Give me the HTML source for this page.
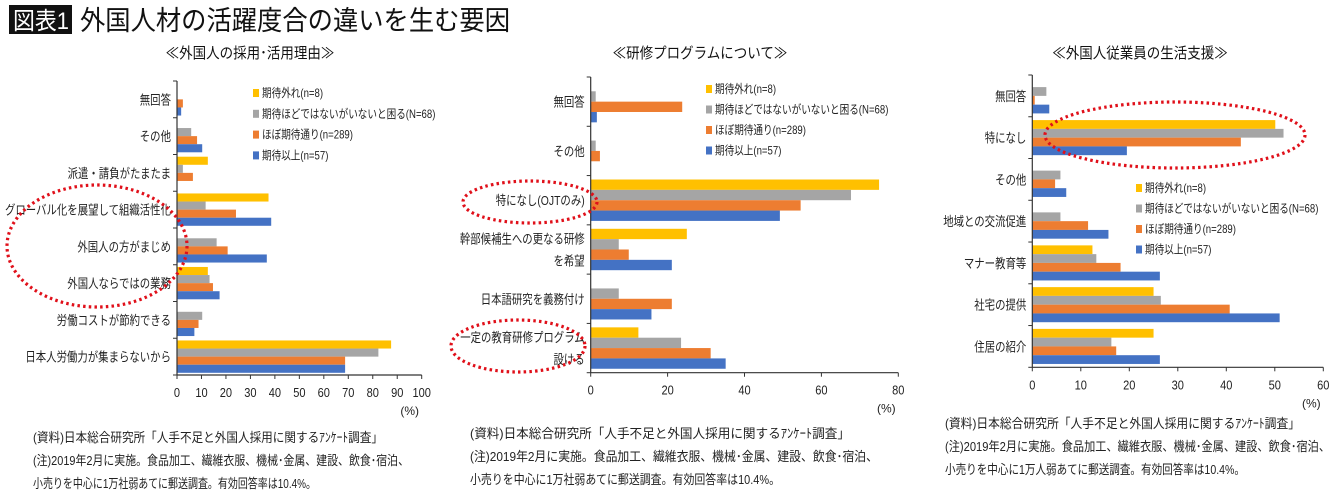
<!DOCTYPE html>
<html><head><meta charset="utf-8"><style>
html,body{margin:0;padding:0;background:#fff;}
svg{display:block;font-family:"Liberation Sans","Noto Sans CJK JP",sans-serif;}
</style></head><body>
<svg id="svg" width="1340" height="492" viewBox="0 0 1340 492">
<rect x="9" y="5" width="63" height="29" fill="#111"/>
<text x="13" y="29" font-size="24" fill="#fff" textLength="56" lengthAdjust="spacingAndGlyphs">図表1</text>
<text x="80" y="30" font-size="27" fill="#111" textLength="430" lengthAdjust="spacingAndGlyphs">外国人材の活躍度合の違いを生む要因</text>
<g id="c1"></g><g id="c2"></g><g id="c3"></g>
<g font-size="13" fill="#222">
<text x="33" y="442" textLength="350" lengthAdjust="spacingAndGlyphs">(資料)日本総合研究所「人手不足と外国人採用に関するｱﾝｹｰﾄ調査」</text>
<text x="33" y="465" textLength="376" lengthAdjust="spacingAndGlyphs">(注)2019年2月に実施。食品加工、繊維衣服、機械･金属、建設、飲食･宿泊、</text>
<text x="33" y="488" textLength="283" lengthAdjust="spacingAndGlyphs">小売りを中心に1万社弱あてに郵送調査。有効回答率は10.4%。</text>
<text x="470" y="438" textLength="380" lengthAdjust="spacingAndGlyphs">(資料)日本総合研究所「人手不足と外国人採用に関するｱﾝｹｰﾄ調査」</text>
<text x="470" y="461" textLength="408" lengthAdjust="spacingAndGlyphs">(注)2019年2月に実施。食品加工、繊維衣服、機械･金属、建設、飲食･宿泊、</text>
<text x="470" y="484" textLength="310" lengthAdjust="spacingAndGlyphs">小売りを中心に1万社弱あてに郵送調査。有効回答率は10.4%。</text>
<text x="945" y="428" textLength="355" lengthAdjust="spacingAndGlyphs">(資料)日本総合研究所「人手不足と外国人採用に関するｱﾝｹｰﾄ調査」</text>
<text x="945" y="451" textLength="385" lengthAdjust="spacingAndGlyphs">(注)2019年2月に実施。食品加工、繊維衣服、機械･金属、建設、飲食･宿泊、</text>
<text x="945" y="474" textLength="300" lengthAdjust="spacingAndGlyphs">小売りを中心に1万人弱あてに郵送調査。有効回答率は10.4%。</text>
</g>
</svg>
<script>
const seriesNames = ["期待外れ(n=8)","期待ほどではないがいないと困る(N=68)","ほぼ期待通り(n=289)","期待以上(n=57)"];
const seriesColors = ["#FFC000","#A5A5A5","#ED7D31","#4472C4"];

const cats1 = ["無回答","その他","派遣・請負がたまたま","グローバル化を展望して組織活性化","外国人の方がまじめ","外国人ならではの業務","労働コストが節約できる","日本人労働力が集まらないから"];
const y1Low = [0,0,12.6,37.4,0,12.6,0,87.5];
const y1Mid = [0,5.8,2.4,11.7,16.2,13.3,10.3,82.3];
const y1Ok = [2.4,8.2,6.5,24.1,20.7,14.7,8.8,68.7];
const y1High = [1.7,10.3,0,38.5,36.7,17.4,7.1,68.7];
const ticks1 = [0,10,20,30,40,50,60,70,80,90,100];

const cats2 = [["無回答"],["その他"],["特になし(OJTのみ)"],["幹部候補生への更なる研修","を希望"],["日本語研究を義務付け"],["一定の教育研修プログラム","設ける"]];
const y2Low = [0,0,75,25,0,12.4];
const y2Mid = [1.3,1.3,67.7,7.3,7.3,23.5];
const y2Ok = [23.8,2.4,54.6,9.9,21.1,31.2];
const y2High = [1.6,0,49.2,21.1,15.8,35.1];
const ticks2 = [0,20,40,60,80];

const cats3 = ["無回答","特になし","その他","地域との交流促進","マナー教育等","社宅の提供","住居の紹介"];
const y3Low = [0,50.1,0,0,12.4,25,25];
const y3Mid = [2.9,51.8,5.8,5.8,13.2,26.5,16.3];
const y3Ok = [0.5,43,4.7,11.5,18.2,40.7,17.3];
const y3High = [3.5,19.5,7,15.7,26.3,51,26.3];
const ticks3 = [0,10,20,30,40,50,60];

const NS="http://www.w3.org/2000/svg";
function mk(p,tag,at,txt){const e=document.createElementNS(NS,tag);for(const k in at)e.setAttribute(k,at[k]);if(txt!==undefined)e.textContent=txt;p.appendChild(e);return e;}
function squeeze(el,f){const w=el.getComputedTextLength();if(w>0){el.setAttribute('textLength',w*f);el.setAttribute('lengthAdjust','spacingAndGlyphs');}}

function chart(g,cfg){
  const {x0,x1,y0,y1,max,cats,series,ticks,title,titleX,legX,legY,legGap,pad,key}=cfg;
  const xs=v=>x0+(v/max)*(x1-x0);
  const band=(y1-y0)/cats.length;
  let t=mk(g,'text',{x:titleX,y:58,'font-size':15,'text-anchor':'middle',fill:'#111'},title);
  
  
  squeeze(t,0.9);
  cats.forEach((c,i)=>{
    const top=y0+i*band+band*pad, bh=(band*(1-2*pad))/4;
    series.forEach((s,j)=>{
      const v=s[i]; if(v<=0) return;
      const r=mk(g,'rect',{x:x0,y:top+j*bh,width:xs(v)-x0,height:bh,fill:seriesColors[j]});
      
      
    });
    const lines=Array.isArray(c)?c:[c];
    const cy=y0+i*band+band/2;
    lines.forEach((ln,k)=>{
      const l=mk(g,'text',{x:x0-6,y:cy+5+(k-(lines.length-1)/2)*22,'font-size':13,'text-anchor':'end',fill:'#222'},ln);
      
      
      squeeze(l,0.8);
    });
    mk(g,'line',{x1:x0-4,x2:x0,y1:y0+i*band,y2:y0+i*band,stroke:'#333'});
  });
  mk(g,'line',{x1:x0-4,x2:x0,y1:y1,y2:y1,stroke:'#333'});
  const ya=mk(g,'line',{x1:x0,x2:x0,y1:y0,y2:y1,stroke:'#333','stroke-width':1.2});
  
  
  const xa=mk(g,'line',{x1:x0,x2:x1,y1:y1,y2:y1,stroke:'#333','stroke-width':1.2});
  
  
  ticks.forEach(v=>{
    mk(g,'line',{x1:xs(v),x2:xs(v),y1:y1,y2:y1+4,stroke:'#333'});
    const tl=mk(g,'text',{x:xs(v),y:y1+22,'font-size':13,'text-anchor':'middle',fill:'#222'},v);
    
    
    squeeze(tl,0.85);
  });
  const u=mk(g,'text',{x:x1-12,y:y1+40,'font-size':12,'text-anchor':'middle',fill:'#222'},'(%)');
  
  
  seriesNames.forEach((n,j)=>{
    const lg=mk(g,'g',{});
    
    
    mk(lg,'rect',{x:legX,y:legY+j*legGap-4,width:6,height:8,fill:seriesColors[j]});
    const tx=mk(lg,'text',{x:legX+9,y:legY+j*legGap+4,'font-size':12,fill:'#222'},n);
    squeeze(tx,0.8);
  });
}
chart(document.getElementById('c1'),{x0:177,x1:421.7,y0:81,y1:375,max:100,cats:cats1,series:[y1Low,y1Mid,y1Ok,y1High],ticks:ticks1,title:"≪外国人の採用･活用理由≫",titleX:250,legX:253,legY:93,legGap:20.8,pad:0.06,key:'recruit'});
chart(document.getElementById('c2'),{x0:590.7,x1:898.3,y0:77,y1:372.7,max:80,cats:cats2,series:[y2Low,y2Mid,y2Ok,y2High],ticks:ticks2,title:"≪研修プログラムについて≫",titleX:700,legX:706,legY:89,legGap:20.5,pad:0.08,key:'training'});
chart(document.getElementById('c3'),{x0:1032.3,x1:1323.3,y0:75,y1:367.3,max:60,cats:cats3,series:[y3Low,y3Mid,y3Ok,y3High],ticks:ticks3,title:"≪外国人従業員の生活支援≫",titleX:1140,legX:1136,legY:188,legGap:20.5,pad:0.08,key:'support'});
const svg=document.getElementById('svg');
[[97,246,90,61],[530,202,67,21],[518,346,67,26],[1175,135,130,33]].forEach(e=>{
  const el=mk(svg,'ellipse',{cx:e[0],cy:e[1],rx:e[2],ry:e[3],fill:'none',stroke:'#E0101A','stroke-width':3.2,'stroke-dasharray':'2.5 3.2'});
  
  
});
</script>
</body></html>
